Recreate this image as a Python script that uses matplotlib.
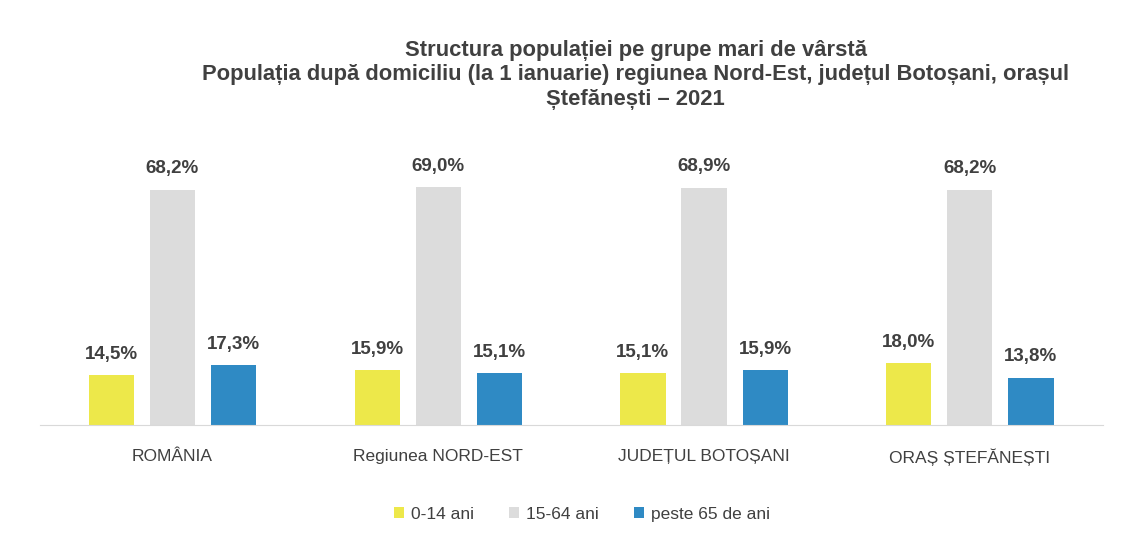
"""
Structura populatiei pe grupe mari de varsta - Stefanesti 2021
"""
import numpy as np
import matplotlib.pyplot as plt

categories = ["ROMÂNIA", "Regiunea NORD-EST", "JUDEȚUL BOTOȘANI", "ORAȘ ȘTEFĂNEȘTI"]
series_names = ["0-14 ani", "15-64 ani", "peste 65 de ani"]
age_0_14 = [14.5, 15.9, 15.1, 18.0]
age_15_64 = [68.2, 69.0, 68.9, 68.2]
age_65_plus = [17.3, 15.1, 15.9, 13.8]

colors = ["#EDE84A", "#DCDCDC", "#2F8AC4"]
text_color = "#404040"

plt.rcParams['font.family'] = ['Liberation Sans', 'DejaVu Sans']

fig = plt.figure(figsize=(11.31, 5.55), dpi=100)
ax = fig.add_axes([0.035, 0.234, 0.94, 0.497])

x = np.arange(len(categories))
width = 0.17
offsets = [-0.23, 0.0, 0.23]

for vals, name, color, off in zip([age_0_14, age_15_64, age_65_plus], series_names, colors, offsets):
    bars = ax.bar(x + off, vals, width, color=color, label=name)
    for b, v in zip(bars, vals):
        ax.annotate(f"{v:.1f}%".replace(".", ","), (b.get_x() + b.get_width() / 2, v),
                    xytext=(0, 9), textcoords="offset points", ha="center", va="bottom",
                    fontsize=13.5, fontweight="bold", color=text_color)

ax.set_xlim(-0.5, len(categories) - 0.5)
ax.set_ylim(0, 80)
ax.set_xticks(x)
ax.set_xticklabels(categories, fontsize=12.5, color=text_color)
ax.tick_params(axis="x", length=0, pad=17)
ax.set_yticks([])
for side in ["top", "right", "left"]:
    ax.spines[side].set_visible(False)
ax.spines["bottom"].set_color("#D9D9D9")

fig.text(0.562, 0.865, "Structura populației pe grupe mari de vârstă\n"
         "Populația după domiciliu (la 1 ianuarie) regiunea Nord-Est, județul Botoșani, orașul\n"
         "Ștefănești – 2021",
         ha="center", va="center", fontsize=15.8, fontweight="bold", color=text_color,
         linespacing=1.2)

ax.legend(loc="upper center", bbox_to_anchor=(0.51, -0.24), ncol=3, frameon=False,
          fontsize=12.5, handlelength=0.6, handleheight=0.6, handletextpad=0.4,
          columnspacing=2.0, labelcolor=text_color)

fig.savefig("out.png", dpi=100)
